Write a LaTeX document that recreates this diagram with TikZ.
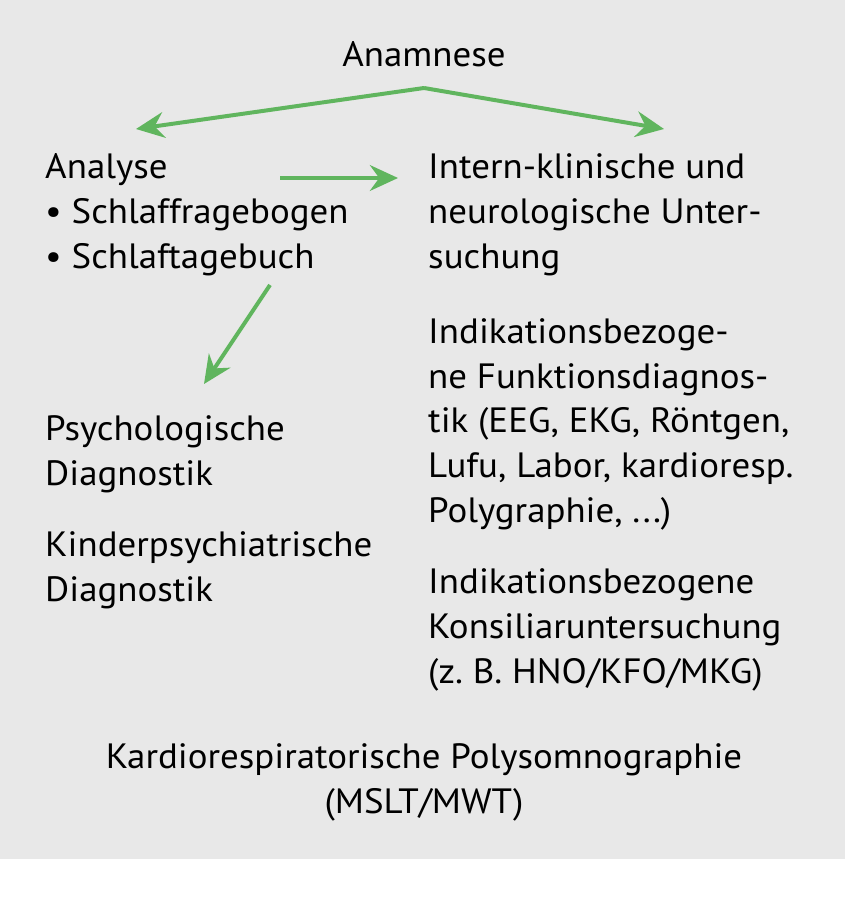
\documentclass[tikz,border=0pt]{standalone}
\usepackage{fontspec}
\setmainfont[FakeStretch=1.05]{PT Sans}
\usepackage{tikz}
\usetikzlibrary{arrows.meta, positioning, calc}

\definecolor{gruen}{RGB}{96,181,94}
\definecolor{grau}{RGB}{232,232,232}
\newcommand{\fs}{\fontsize{30pt}{38pt}\selectfont\frenchspacing}

\begin{document}
\begin{tikzpicture}[x=0.03cm, y=-0.03cm,
  txt/.style={align=left, inner sep=0pt, anchor=base west, font=\fs},
  pfeil/.style={draw=gruen, line width=3.4pt, -{Stealth[length=24pt, width=22pt, inset=8pt]}}]

\useasboundingbox (0,0) rectangle (848,900);
\fill[grau] (0,0) rectangle (845,859);

% base = Grundlinie der letzten Zeile
\node (anamnese)[txt, anchor=base] at (424,67) {Anamnese};

\node (analyse)[txt] at (45,268) {Analyse\\\textbullet{} Schlaffragebogen\\\textbullet{} Schlaftagebuch};
\node (intern)[txt] at (428,268) {Intern-klinische und\\neurologische Unter-\\suchung};

\node (psycho)[txt] at (45,485) {Psychologische\\Diagnostik};
\node (kinder)[txt] at (45,601) {Kinderpsychiatrische\\Diagnostik};

\node (funktion)[txt] at (428,522) {Indikationsbezoge-\\ne Funktionsdiagnos-\\tik (EEG, EKG, Röntgen,\\Lufu, Labor, kardioresp.\\Polygraphie, ...)};
\node (konsil)[txt] at (428,683) {Indikationsbezogene\\Konsiliaruntersuchung\\(z. B. HNO/KFO/MKG)};

\node (psg)[txt, align=center, anchor=base] at (424,813) {Kardiorespiratorische Polysomnographie\\(MSLT/MWT)};

% Pfeilenden
\coordinate (spitze) at (424,88);
\coordinate (ana-l) at (136,129);
\coordinate (ana-r) at (664,129);
\coordinate (mitte-a) at (280,178);
\coordinate (mitte-b) at (398,178);
\coordinate (schraeg-a) at (270,285);
\coordinate (schraeg-b) at (204,384);

\draw[pfeil] (spitze) -- (ana-l);
\draw[pfeil] (spitze) -- (ana-r);
\draw[pfeil] (mitte-a) -- (mitte-b);
\draw[pfeil] (schraeg-a) -- (schraeg-b);

\end{tikzpicture}
\end{document}
